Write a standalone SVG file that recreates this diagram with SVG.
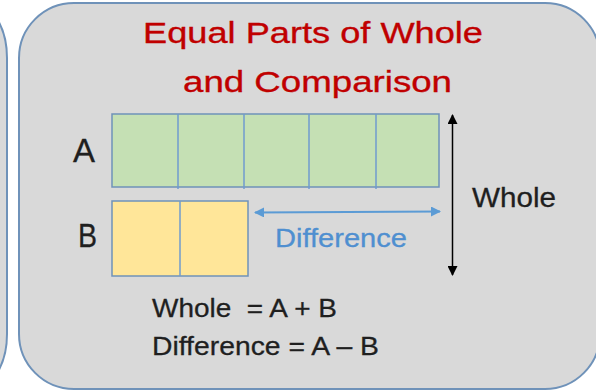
<svg xmlns="http://www.w3.org/2000/svg" width="596" height="392" viewBox="0 0 596 392">
<style>
.panel{fill:#d9d9d9;stroke:#6f92b9;stroke-width:2}
.t{font-family:"Liberation Sans",Arial,sans-serif;fill:#1f1f1f;stroke:#1f1f1f;stroke-width:0.3}
.title{font-family:"Liberation Sans",Arial,sans-serif;fill:#c00000;stroke:#c00000;stroke-width:0.35;font-size:30px}
.part{stroke:#6f9bcf;stroke-width:1.5}
</style>
<defs>
<marker id="ab" viewBox="0 0 10 10" refX="9" refY="5" markerWidth="10" markerHeight="10" orient="auto-start-reverse" markerUnits="userSpaceOnUse">
<path d="M0,0 L10,5 L0,10 z" fill="#5b9bd5"/>
</marker>
<marker id="ak" viewBox="0 0 10 10" refX="9" refY="5" markerWidth="10" markerHeight="10" orient="auto-start-reverse" markerUnits="userSpaceOnUse">
<path d="M0,0 L10,5 L0,10 z" fill="#000"/>
</marker>
</defs>
<rect width="596" height="392" fill="#ffffff"/>
<g id="left-panel"><rect class="panel" x="-60" y="3" width="67" height="386" rx="55"/></g>
<g id="main-panel"><rect class="panel" x="19" y="3" width="581" height="386" rx="55"/></g>
<g id="title">
<text class="title" x="143" y="43" textLength="340" lengthAdjust="spacingAndGlyphs">Equal Parts of Whole</text>
<text class="title" x="183" y="92" textLength="269" lengthAdjust="spacingAndGlyphs">and Comparison</text>
</g>
<g id="bar-A">
<rect x="112" y="114" width="327" height="73" fill="#c5e0b4" stroke="#6f92b9" stroke-width="1.5"/>
<line class="part" x1="178" y1="114" x2="178" y2="189"/>
<line class="part" x1="244" y1="114" x2="244" y2="189"/>
<line class="part" x1="309" y1="114" x2="309" y2="189"/>
<line class="part" x1="376" y1="114" x2="376" y2="189"/>
<text class="t" x="73" y="162" font-size="33" textLength="22" lengthAdjust="spacingAndGlyphs">A</text>
</g>
<g id="bar-B">
<rect x="112" y="201" width="136" height="75" fill="#ffe699" stroke="#6f92b9" stroke-width="1.5"/>
<line class="part" x1="180" y1="201" x2="180" y2="276"/>
<text class="t" x="78" y="247" font-size="34" textLength="19" lengthAdjust="spacingAndGlyphs">B</text>
</g>
<g id="connectors">
<line x1="255" y1="212.5" x2="440" y2="211.5" stroke="#5b9bd5" stroke-width="2" marker-start="url(#ab)" marker-end="url(#ab)"/>
<line x1="452.5" y1="115" x2="452.5" y2="275" stroke="#000" stroke-width="1.5" marker-start="url(#ak)" marker-end="url(#ak)"/>
</g>
<g id="labels">
<text x="275" y="247" font-family="Liberation Sans,Arial,sans-serif" font-size="26" fill="#4f8fd0" stroke="#4f8fd0" stroke-width="0.3" textLength="132" lengthAdjust="spacingAndGlyphs">Difference</text>
<text class="t" x="472" y="207" font-size="28" textLength="84" lengthAdjust="spacingAndGlyphs">Whole</text>
<text class="t" x="152" y="317" font-size="26" textLength="185" lengthAdjust="spacingAndGlyphs" xml:space="preserve">Whole  = A + B</text>
<text class="t" x="152" y="355" font-size="26" textLength="227" lengthAdjust="spacingAndGlyphs">Difference = A – B</text>
</g>
</svg>
